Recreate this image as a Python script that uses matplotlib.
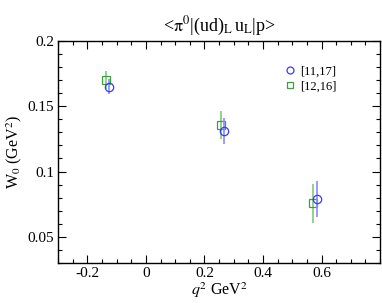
import matplotlib
matplotlib.use('Agg')
import matplotlib.pyplot as plt
from matplotlib.ticker import MultipleLocator
from matplotlib.lines import Line2D

plt.rcParams['font.family'] = ['Liberation Serif', 'DejaVu Serif']
plt.rcParams['mathtext.fontset'] = 'stix'

# data
q2_a = [-0.125, 0.267, 0.586]
w0_a = [0.165, 0.131, 0.079]
err_a = [0.006, 0.0097, 0.0137]
label_a = '[11,17]'

q2_b = [-0.137, 0.256, 0.572]
w0_b = [0.170, 0.1357, 0.0757]
err_b = [0.007, 0.0105, 0.015]
label_b = '[12,16]'

blue, blue_l = '#3a3aff', '#8a8aff'
green, green_l = '#3aa03a', '#80c880'

fig = plt.figure(figsize=(3.82, 3.03), dpi=100)
ax = fig.add_axes([0.152, 0.132, 0.843, 0.733])

ax.errorbar(q2_a, w0_a, yerr=err_a, fmt='o', ms=6, mfc='none', mec=blue,
            mew=0.9, ecolor=blue_l, elinewidth=1.2, capsize=0, zorder=3)
ax.errorbar(q2_b, w0_b, yerr=err_b, fmt='s', ms=6, mfc='none', mec=green,
            mew=0.9, ecolor=green_l, elinewidth=1.2, capsize=0, zorder=2)

ax.set_xlim(-0.3, 0.8)
ax.set_ylim(0.03, 0.2)
ax.xaxis.set_minor_locator(MultipleLocator(0.05))
ax.yaxis.set_minor_locator(MultipleLocator(0.01))
ax.set_xticks([-0.2, 0, 0.2, 0.4, 0.6])
ax.set_xticklabels(['-0.2', '0', '0.2', '0.4', '0.6'])
ax.set_yticks([0.05, 0.1, 0.15, 0.2])
ax.set_yticklabels(['0.05', '0.1', '0.15', '0.2'])
ax.tick_params(which='both', direction='in', top=True, right=True, labelsize=11, width=0.8)
ax.tick_params(which='major', length=6, pad=3)
ax.tick_params(which='minor', length=3)
for s in ax.spines.values():
    s.set_linewidth(1.0)

ax.set_xlabel(r'$q^2$ GeV$^2$', fontsize=11.5, labelpad=0)
ax.set_ylabel(r'W$_0$ (GeV$^2$)', fontsize=11.5, labelpad=2)
ax.set_title(r'<$\mathrm{\pi}^0$|(ud)$_\mathrm{L}\,$u$_\mathrm{L}$|p>', fontsize=13, pad=7)

handles = [Line2D([], [], ls='none', marker='o', ms=5, mfc='none', mec=blue, mew=0.9),
           Line2D([], [], ls='none', marker='s', ms=4.5, mfc='none', mec=green, mew=0.9)]
ax.legend(handles, [label_a, label_b], loc='upper right', bbox_to_anchor=(0.90, 0.94),
          frameon=False, fontsize=9, handletextpad=0.3, labelspacing=0.25, handlelength=1.0)

fig.savefig('out.png', dpi=100)
